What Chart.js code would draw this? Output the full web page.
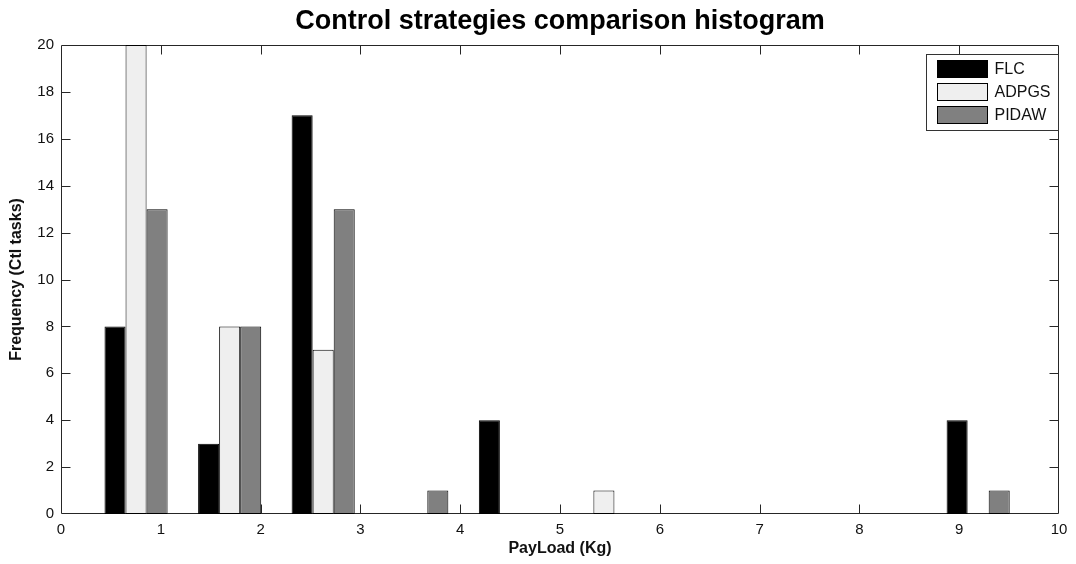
<!DOCTYPE html>
<html>
<head>
<meta charset="utf-8">
<title>Control strategies comparison histogram</title>
<script src="https://cdn.jsdelivr.net/npm/chart.js@4.4.1/dist/chart.umd.min.js"></script>
<style>
  html, body { margin: 0; padding: 0; background: #ffffff; }
  #wrap { width: 1076px; height: 564px; }
</style>
</head>
<body>
<div id="wrap"><canvas id="chart" width="1076" height="564"></canvas></div>
<script>
// Histogram bins (payload in Kg) and task counts per control strategy
const binCenters  = [0.752, 1.690, 2.627, 3.565, 4.503, 5.440, 6.378, 7.315, 8.253, 9.190];
const flcCounts   = [8, 3, 17, 0, 4, 0, 0, 0, 0, 4];
const adpgsCounts = [20, 8, 7, 0, 0, 1, 0, 0, 0, 0];
const pidawCounts = [13, 8, 13, 1, 0, 0, 0, 0, 0, 1];
const seriesNames = ['FLC', 'ADPGS', 'PIDAW'];
const seriesFills = ['#000000', '#efefef', '#808080'];
const xTicks = [0, 1, 2, 3, 4, 5, 6, 7, 8, 9, 10];
const yTicks = [0, 2, 4, 6, 8, 10, 12, 14, 16, 18, 20];

const FONT = "'Liberation Sans', Arial, Helvetica, sans-serif";
const AXIS_COLOR = '#262626';
const TICK_LEN = 9;

// Boxed axes with inward tick marks, drawn underneath the bars
const boxedAxes = {
  id: 'boxedAxes',
  beforeDatasetsDraw(chart) {
    const { ctx, chartArea: a, scales: { x, y } } = chart;
    const L = Math.round(a.left) + 0.5, R = Math.round(a.right) - 0.5;
    const T = Math.round(a.top) + 0.5, B = Math.round(a.bottom) - 0.5;
    ctx.save();
    ctx.strokeStyle = AXIS_COLOR;
    ctx.lineWidth = 1;
    ctx.beginPath();
    ctx.rect(L, T, R - L, B - T);
    x.ticks.forEach(t => {
      if (t.value <= x.min || t.value >= x.max) return;
      const px = Math.round(x.getPixelForValue(t.value)) + 0.5;
      ctx.moveTo(px, B); ctx.lineTo(px, B - TICK_LEN);
      ctx.moveTo(px, T); ctx.lineTo(px, T + TICK_LEN);
    });
    y.ticks.forEach(t => {
      if (t.value <= y.min || t.value >= y.max) return;
      const py = Math.round(y.getPixelForValue(t.value)) + 0.5;
      ctx.moveTo(L, py); ctx.lineTo(L + TICK_LEN, py);
      ctx.moveTo(R, py); ctx.lineTo(R - TICK_LEN, py);
    });
    ctx.stroke();
    ctx.restore();
  }
};

// Boxed legend in the upper right corner of the plot area
const boxedLegend = {
  id: 'boxedLegend',
  afterDraw(chart) {
    const { ctx, chartArea: a } = chart;
    const w = 132, h = 76;
    const left = Math.round(a.right) - 1 - w + 0.5;
    const top = Math.round(a.top) + 9 + 0.5;
    ctx.save();
    ctx.fillStyle = '#ffffff';
    ctx.fillRect(left, top, w, h);
    ctx.strokeStyle = '#333333';
    ctx.lineWidth = 1;
    ctx.strokeRect(left, top, w, h);
    ctx.font = '16px ' + FONT;
    ctx.textBaseline = 'middle';
    ctx.textAlign = 'left';
    chart.data.datasets.forEach((ds, i) => {
      const sy = top + 5 + i * 23.4;
      const sx = left + 10;
      ctx.fillStyle = ds.backgroundColor;
      ctx.fillRect(Math.round(sx), Math.round(sy), 51, 18);
      ctx.strokeStyle = '#000000';
      ctx.strokeRect(Math.round(sx) + 0.5, Math.round(sy) + 0.5, 50, 17);
      ctx.fillStyle = '#111111';
      ctx.fillText(ds.label, sx + 58, Math.round(sy) + 9.5);
    });
    ctx.restore();
  }
};

const countSeries = [flcCounts, adpgsCounts, pidawCounts];

new Chart(document.getElementById('chart'), {
  type: 'bar',
  data: {
    labels: binCenters,
    datasets: seriesNames.map((name, i) => ({
      label: name,
      data: countSeries[i],
      backgroundColor: seriesFills[i],
      borderColor: '#000000',
      borderWidth: 1,
      borderSkipped: false,
      inflateAmount: 0,
      barPercentage: 1.0,
      categoryPercentage: 0.675
    }))
  },
  options: {
    responsive: false,
    animation: false,
    devicePixelRatio: 1,
    layout: { padding: { left: 0, right: 17, top: 0, bottom: 0 } },
    plugins: {
      legend: { display: false },
      tooltip: { enabled: false },
      title: {
        display: true,
        fullSize: false,
        text: 'Control strategies comparison histogram',
        color: '#000000',
        font: { family: FONT, size: 27, weight: 'bold', lineHeight: 1.2 },
        padding: { top: 5, bottom: 7.6 }
      }
    },
    scales: {
      x: {
        type: 'linear',
        min: 0,
        max: 10,
        offset: false,
        afterBuildTicks: s => { s.ticks = xTicks.map(v => ({ value: v })); },
        afterFit: s => { s.height = 50; },
        grid: { display: false, drawTicks: false },
        border: { display: false },
        ticks: {
          color: '#111111',
          font: { family: FONT, size: 15 },
          padding: 7,
          maxRotation: 0,
          autoSkip: false
        },
        title: {
          display: true,
          text: 'PayLoad (Kg)',
          color: '#111111',
          font: { family: FONT, size: 16, weight: 'bold', lineHeight: 1.2 },
          padding: { top: 0, bottom: 5.4 }
        }
      },
      y: {
        min: 0,
        max: 20,
        afterBuildTicks: s => { s.ticks = yTicks.map(v => ({ value: v })); },
        afterFit: s => { s.width = 61; },
        grid: { display: false, drawTicks: false },
        border: { display: false },
        ticks: {
          color: '#111111',
          font: { family: FONT, size: 15 },
          padding: 7
        },
        title: {
          display: true,
          text: 'Frequency (Ctl tasks)',
          color: '#111111',
          font: { family: FONT, size: 16, weight: 'bold', lineHeight: 1.2 },
          padding: { top: 7, bottom: 0 }
        }
      }
    }
  },
  plugins: [boxedAxes, boxedLegend]
});
</script>
</body>
</html>
